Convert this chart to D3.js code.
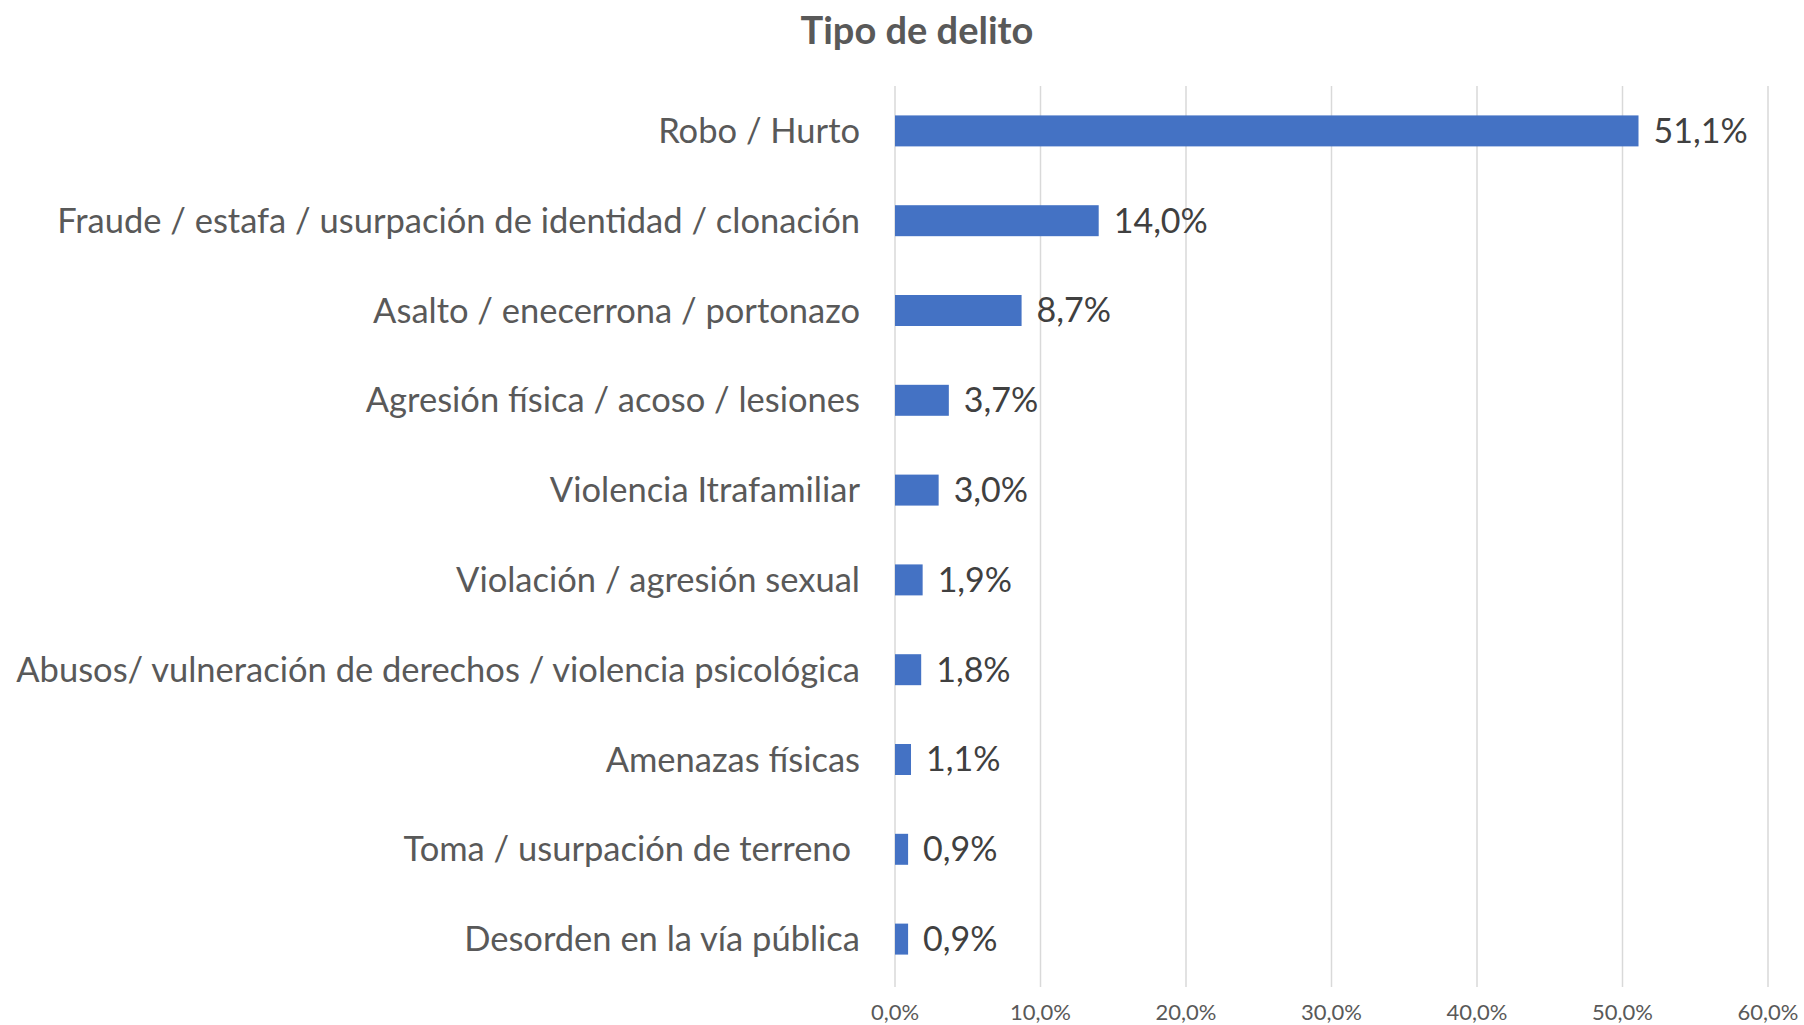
<!DOCTYPE html>
<html>
<style>
  body { margin: 0; background: #fff; overflow: hidden; }
  text { font-family: Lato, "Open Sans", sans-serif; }
</style>
<script src="https://cdn.jsdelivr.net/npm/d3@7"></script>
<body>
<svg></svg>
<script>
var categories = ["Robo / Hurto",
  "Fraude / estafa / usurpación de identidad / clonación",
  "Asalto / enecerrona / portonazo",
  "Agresión física / acoso / lesiones",
  "Violencia Itrafamiliar",
  "Violación / agresión sexual",
  "Abusos/ vulneración de derechos / violencia psicológica",
  "Amenazas físicas",
  "Toma / usurpación de terreno ",
  "Desorden en la vía pública"];
var values = [51.1, 14.0, 8.7, 3.7, 3.0, 1.9, 1.8, 1.1, 0.9, 0.9];
var xTicks = [0, 10, 20, 30, 40, 50, 60];

var width = 1804, height = 1025;
var margin = {top: 86, right: 36, bottom: 41, left: 895};

var svg = d3.select("svg")
    .attr("width", width)
    .attr("height", height);

var x = d3.scaleLinear().domain([0, 60]).range([margin.left, width - margin.right]);
var y = d3.scaleBand().domain(categories)
    .range([margin.top, height - margin.bottom])
    .paddingInner(0.655).paddingOuter(0.3275);

var fmt = function(v) { return d3.format(".1f")(v).replace(".", ",") + "%"; };

svg.append("text")
    .attr("x", 917).attr("y", 44)
    .attr("text-anchor", "middle")
    .style("font-size", "38px").style("font-weight", "bold")
    .style("fill", "#595959")
    .text("Tipo de delito");

// gridlines
svg.append("g").selectAll("line")
    .data(xTicks)
  .enter().append("line")
    .attr("x1", function(d) { return x(d); })
    .attr("x2", function(d) { return x(d); })
    .attr("y1", margin.top)
    .attr("y2", height - margin.bottom + 3)
    .style("stroke", "#d9d9d9").style("stroke-width", 1.5);

// x tick labels
svg.append("g").selectAll("text")
    .data(xTicks)
  .enter().append("text")
    .attr("x", function(d) { return x(d); })
    .attr("y", 1020)
    .attr("text-anchor", "middle")
    .style("font-size", "22px").style("fill", "#595959")
    .text(fmt);

// bars
svg.append("g").selectAll("rect")
    .data(values)
  .enter().append("rect")
    .attr("x", x(0))
    .attr("y", function(d, i) { return y(categories[i]); })
    .attr("width", function(d) { return x(d) - x(0); })
    .attr("height", y.bandwidth())
    .style("fill", "#4472c4");

// category labels
svg.append("g").selectAll("text")
    .data(categories)
  .enter().append("text")
    .attr("x", x(0) - 35)
    .attr("y", function(d) { return y(d) + y.bandwidth() / 2; })
    .attr("dy", "0.35em")
    .attr("text-anchor", "end")
    .style("font-size", "34.5px").style("fill", "#595959")
    .style("white-space", "pre")
    .text(function(d) { return d; });

// value labels
svg.append("g").selectAll("text")
    .data(values)
  .enter().append("text")
    .attr("x", function(d) { return x(d) + 15; })
    .attr("y", function(d, i) { return y(categories[i]) + y.bandwidth() / 2; })
    .attr("dy", "0.35em")
    .style("font-size", "34px").style("fill", "#404040")
    .text(fmt);
</script>
</body>
</html>
